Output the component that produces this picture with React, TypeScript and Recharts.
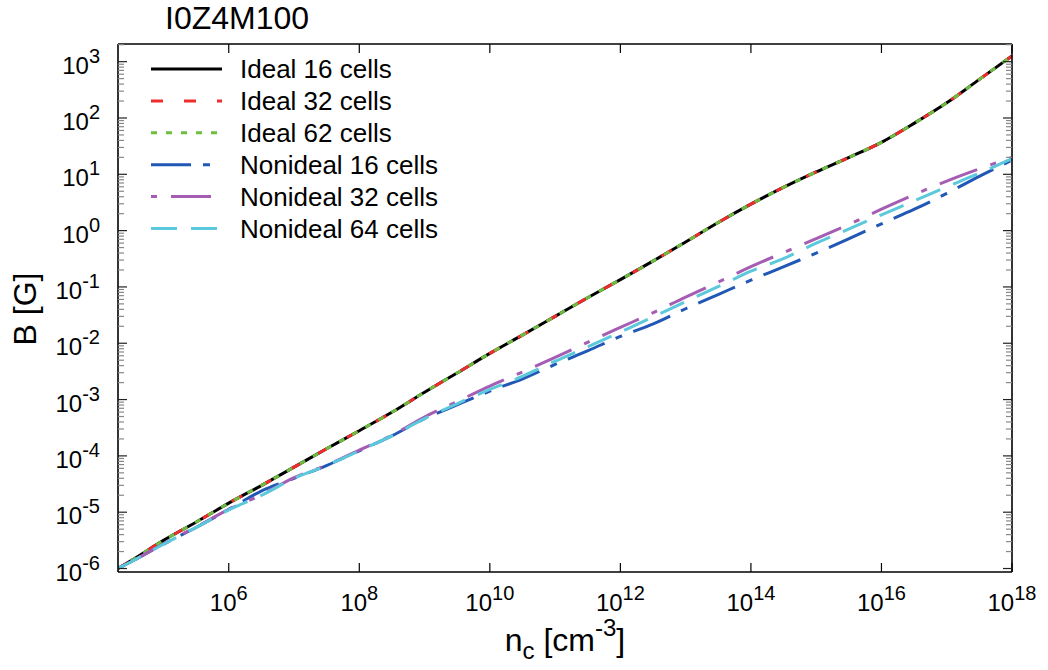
import { LineChart, Line, XAxis, YAxis, Legend } from 'recharts';

const FONT = '"Liberation Sans", Arial, Helvetica, sans-serif';

// central density n_c [cm^-3]
const density = [
  2.0e4, 3.2e4, 1e5, 3.2e5, 1e6, 3.2e6, 1e7, 3.2e7, 1e8, 3.2e8, 1e9, 3.2e9, 1e10, 3.2e10, 1e11,
  3.2e11, 1e12, 3.2e12, 1e13, 3.2e13, 1e14, 3.2e14, 1e15, 3.2e15, 1e16, 3.2e16, 1e17, 3.2e17, 1e18,
];

// B [G]
const ideal16 = [
  1.0e-6, 1.38e-6, 3.16e-6, 6.7e-6, 1.45e-5, 3.0e-5, 6.3e-5, 1.35e-4, 2.8e-4, 6.0e-4, 1.35e-3, 3.0e-3,
  6.6e-3, 1.41e-2, 3.0e-2, 6.5e-2, 0.135, 0.29, 0.63, 1.41, 2.95, 5.9, 11.0, 20, 37, 81, 186, 490, 1260,
];
const ideal32 = [
  1.0e-6, 1.38e-6, 3.16e-6, 6.7e-6, 1.45e-5, 3.0e-5, 6.3e-5, 1.35e-4, 2.8e-4, 6.0e-4, 1.35e-3, 3.0e-3,
  6.6e-3, 1.41e-2, 3.0e-2, 6.5e-2, 0.135, 0.29, 0.63, 1.41, 2.95, 5.9, 11.0, 20, 37, 81, 186, 490, 1260,
];
const ideal62 = [
  1.0e-6, 1.38e-6, 3.16e-6, 6.7e-6, 1.45e-5, 3.0e-5, 6.3e-5, 1.35e-4, 2.8e-4, 6.0e-4, 1.35e-3, 3.0e-3,
  6.6e-3, 1.41e-2, 3.0e-2, 6.5e-2, 0.135, 0.29, 0.63, 1.41, 2.95, 5.9, 11.0, 20, 37, 81, 186, 490, 1260,
];
const nonideal16 = [
  1.0e-6, 1.32e-6, 2.7e-6, 5.4e-6, 1.12e-5, 2.4e-5, 4.0e-5, 6.8e-5, 1.23e-4, 2.29e-4, 4.57e-4, 8.1e-4,
  1.41e-3, 2.34e-3, 4.2e-3, 7.4e-3, 1.32e-2, 2.2e-2, 4.1e-2, 7.4e-2, 0.132, 0.229, 0.4, 0.72, 1.32, 2.4,
  4.57, 9.3, 17.8,
];
const nonideal32 = [
  1.0e-6, 1.32e-6, 2.75e-6, 5.5e-6, 1.12e-5, 2.04e-5, 4.1e-5, 6.9e-5, 1.26e-4, 2.34e-4, 4.9e-4, 9.3e-4,
  1.74e-3, 3.1e-3, 5.6e-3, 1.05e-2, 1.91e-2, 3.5e-2, 6.6e-2, 0.123, 0.229, 0.41, 0.72, 1.29, 2.4, 4.37,
  7.6, 12.6, 20,
];
const nonideal64 = [
  1.0e-6, 1.32e-6, 2.7e-6, 5.4e-6, 1.1e-5, 2.0e-5, 4.0e-5, 6.8e-5, 1.23e-4, 2.29e-4, 4.57e-4, 8.5e-4,
  1.51e-3, 2.6e-3, 4.8e-3, 8.7e-3, 1.58e-2, 2.95e-2, 5.5e-2, 0.102, 0.19, 0.32, 0.6, 1.07, 1.91, 3.39,
  6.0, 10.5, 19.1,
];

const xTicks = [1e6, 1e8, 1e10, 1e12, 1e14, 1e16, 1e18];
const yMajor = [1e-6, 1e-5, 1e-4, 1e-3, 1e-2, 1e-1, 1, 10, 100, 1000];
const minorSteps = [2, 3, 4, 5, 6, 7, 8, 9];

const X_DOMAIN = [2.01e4, 1e18];
const Y_DOMAIN = [8.67e-7, 2.06e3];

const yTicks = [
  ...yMajor,
  ...yMajor.flatMap((m) => minorSteps.map((s) => s * m)).filter((v) => v < Y_DOMAIN[1]),
].sort((a, b) => a - b);

const series = [
  { key: 'ideal16', name: 'Ideal 16 cells', color: '#000000', dash: undefined },
  { key: 'ideal32', name: 'Ideal 32 cells', color: '#ee2d2d', dash: '12 21' },
  { key: 'ideal62', name: 'Ideal 62 cells', color: '#6dbe3f', dash: '6 9' },
  { key: 'nonideal16', name: 'Nonideal 16 cells', color: '#2157b5', dash: '40 12 7 12' },
  { key: 'nonideal32', name: 'Nonideal 32 cells', color: '#a55db3', dash: '6 14 40 14' },
  { key: 'nonideal64', name: 'Nonideal 64 cells', color: '#5cc8dc', dash: '26 14' },
];

const data = density.map((n, i) => ({
  n,
  ideal16: ideal16[i],
  ideal32: ideal32[i],
  ideal62: ideal62[i],
  nonideal16: nonideal16[i],
  nonideal32: nonideal32[i],
  nonideal64: nonideal64[i],
}));

const exponent = (v: number) => Math.round(Math.log10(v));
const isMajor = (v: number) => Math.abs(v / Math.pow(10, exponent(v)) - 1) < 1e-6;

function BottomTick({ x, y, payload }: any) {
  return (
    <g>
      <line x1={x} x2={x} y1={y} y2={y - 9} stroke="#000" strokeWidth={1.2} />
      <text x={x} y={y + 39} textAnchor="middle" fontFamily={FONT} fontSize={24} fill="#000">
        10<tspan dy={-11} fontSize={20}>{exponent(payload.value)}</tspan>
      </text>
    </g>
  );
}

function TopTick({ x, y }: any) {
  return <line x1={x} x2={x} y1={y} y2={y + 9} stroke="#000" strokeWidth={1.2} />;
}

function LeftTick({ x, y, payload }: any) {
  const major = isMajor(payload.value);
  return (
    <g>
      <line
        x1={x}
        x2={x + (major ? 9 : 6)}
        y1={y}
        y2={y}
        stroke={major ? '#222' : '#888'}
        strokeWidth={1.2}
      />
      {major && (
        <text x={x - 18} y={y + 12} textAnchor="end" fontFamily={FONT} fontSize={24} fill="#000">
          10<tspan dy={-11} fontSize={20}>{exponent(payload.value)}</tspan>
        </text>
      )}
    </g>
  );
}

function RightTick({ x, y, payload }: any) {
  const major = isMajor(payload.value);
  return (
    <line
      x1={x}
      x2={x - (major ? 9 : 6)}
      y1={y}
      y2={y}
      stroke={major ? '#222' : '#888'}
      strokeWidth={1.2}
    />
  );
}

function XTitle() {
  return (
    <text x={565} y={651} textAnchor="middle" fontFamily={FONT} fontSize={32} fill="#000">
      n
      <tspan dy={8} fontSize={24}>c</tspan>
      <tspan dy={-8}> [cm</tspan>
      <tspan dy={-15} fontSize={24}>-3</tspan>
      <tspan dy={15}>]</tspan>
    </text>
  );
}

function YTitle() {
  return (
    <text
      x={36}
      y={309}
      transform="rotate(-90 36 309)"
      textAnchor="middle"
      fontFamily={FONT}
      fontSize={32}
      fill="#000"
    >
      B [G]
    </text>
  );
}

function LegendBox() {
  return (
    <svg width={330} height={200} style={{ display: 'block' }}>
      {series.map((s, i) => {
        const y = 17 + i * 31.9;
        return (
          <g key={s.key}>
            <line x1={0} x2={71} y1={y} y2={y} stroke={s.color} strokeWidth={3} strokeDasharray={s.dash} />
            <text x={89} y={y + 9} fontFamily={FONT} fontSize={26} fill="#000">
              {s.name}
            </text>
          </g>
        );
      })}
    </svg>
  );
}

export default function App() {
  return (
    <div style={{ position: 'relative', width: 1048, height: 670, background: '#fff' }}>
      <style>{'body{margin:0;background:#fff}'}</style>
      <div
        style={{
          position: 'absolute',
          left: 165,
          top: 0,
          fontFamily: FONT,
          fontSize: 32,
          lineHeight: '36px',
          color: '#000',
        }}
      >
        I0Z4M100
      </div>
      <LineChart width={1048} height={670} data={data} margin={{ top: 0, right: 0, bottom: 0, left: 0 }}>
        <XAxis
          dataKey="n"
          type="number"
          scale="log"
          domain={X_DOMAIN}
          allowDataOverflow
          ticks={xTicks}
          interval={0}
          tickLine={false}
          tickSize={0}
          tickMargin={0}
          tick={(p: any) => <BottomTick {...p} />}
          axisLine={{ stroke: '#000', strokeWidth: 1.6 }}
          height={98}
          label={<XTitle />}
        />
        <XAxis
          xAxisId="top"
          orientation="top"
          dataKey="n"
          type="number"
          scale="log"
          domain={X_DOMAIN}
          allowDataOverflow
          ticks={xTicks}
          interval={0}
          tickLine={false}
          tickSize={0}
          tickMargin={0}
          tick={(p: any) => <TopTick {...p} />}
          axisLine={{ stroke: '#000', strokeWidth: 1.6 }}
          height={44}
        />
        <YAxis
          type="number"
          scale="log"
          domain={Y_DOMAIN}
          allowDataOverflow
          ticks={yTicks}
          interval={0}
          tickLine={false}
          tickSize={0}
          tickMargin={0}
          tick={(p: any) => <LeftTick {...p} />}
          axisLine={{ stroke: '#000', strokeWidth: 1.6 }}
          width={118}
          label={<YTitle />}
        />
        <YAxis
          yAxisId="right"
          orientation="right"
          type="number"
          scale="log"
          domain={Y_DOMAIN}
          allowDataOverflow
          ticks={yTicks}
          interval={0}
          tickLine={false}
          tickSize={0}
          tickMargin={0}
          tick={(p: any) => <RightTick {...p} />}
          axisLine={{ stroke: '#000', strokeWidth: 1.6 }}
          width={36}
        />
        <Legend
          layout="vertical"
          align="center"
          verticalAlign="middle"
          wrapperStyle={{ position: 'absolute', left: 151, top: 52, width: 330, height: 200 }}
          content={() => <LegendBox />}
        />
        {series.map((s) => (
          <Line
            key={s.key}
            dataKey={s.key}
            name={s.name}
            type="monotone"
            stroke={s.color}
            strokeWidth={3}
            strokeDasharray={s.dash}
            dot={false}
            activeDot={false}
            isAnimationActive={false}
          />
        ))}
      </LineChart>
    </div>
  );
}
